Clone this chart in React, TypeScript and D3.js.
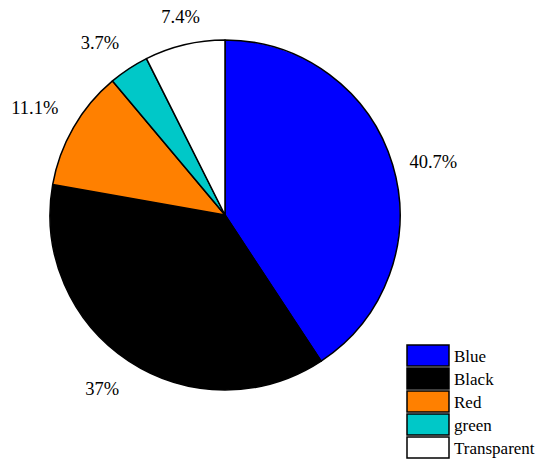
import React from "react";
import * as d3 from "d3";

const categories = ["Blue", "Black", "Red", "green", "Transparent"];
const counts = [11, 10, 3, 1, 2];
const labels = ["40.7%", "37%", "11.1%", "3.7%", "7.4%"];
const colors = ["#0000FF", "#000000", "#FF8000", "#00C8C8", "#FFFFFF"];

const W = 550;
const H = 474;
const cx = 225;
const cy = 215;
const R = 175;
const FONT = "Liberation Serif, DejaVu Serif, serif";

export default function App() {
  const pie = d3.pie<number>().sort(null).value((d) => d);
  const arcs = pie(counts);
  const arcGen = d3.arc<d3.PieArcDatum<number>>().innerRadius(0).outerRadius(R);

  const legendX = 407;
  const legendY = 345;
  const step = 23;
  const boxW = 42;
  const boxH = 21;

  return (
    <svg
      width={W}
      height={H}
      style={{ position: "absolute", left: 0, top: 0, background: "#fff", fontFamily: FONT }}
    >
      <g transform={`translate(${cx},${cy})`}>
        {arcs.map((a, i) => (
          <path
            key={i}
            d={arcGen(a) || ""}
            fill={colors[i]}
            stroke="#000"
            strokeWidth={1.5}
            strokeLinejoin="round"
          />
        ))}
        {arcs.map((a, i) => {
          const mid = (a.startAngle + a.endAngle) / 2;
          const s = Math.sin(mid);
          const c = Math.cos(mid);
          const lx = 1.1 * R * s;
          const ly = -1.1 * R * c;
          let anchor = "middle";
          if (s > 0.3) anchor = "start";
          else if (s < -0.3) anchor = "end";
          let y = ly;
          if (c > 0.4) {
            y = ly - 5;
          } else if (c < -0.4) {
            y = ly + 19;
          } else {
            y = ly + 8;
          }
          return (
            <text
              key={"l" + i}
              x={lx}
              y={y}
              textAnchor={anchor}
              style={{ fontFamily: FONT, fontSize: "18.5px" }}
              fill="#000"
            >
              {labels[i]}
            </text>
          );
        })}
      </g>
      <g>
        {categories.map((cat, i) => (
          <g key={cat} transform={`translate(${legendX},${legendY + i * step})`}>
            <rect
              x={0}
              y={0}
              width={boxW}
              height={boxH}
              fill={colors[i]}
              stroke="#000"
              strokeWidth={1.5}
            />
            <text
              x={boxW + 5}
              y={boxH / 2 + 6}
              style={{ fontFamily: FONT, fontSize: "17px" }}
              fill="#000"
            >
              {cat}
            </text>
          </g>
        ))}
      </g>
    </svg>
  );
}
